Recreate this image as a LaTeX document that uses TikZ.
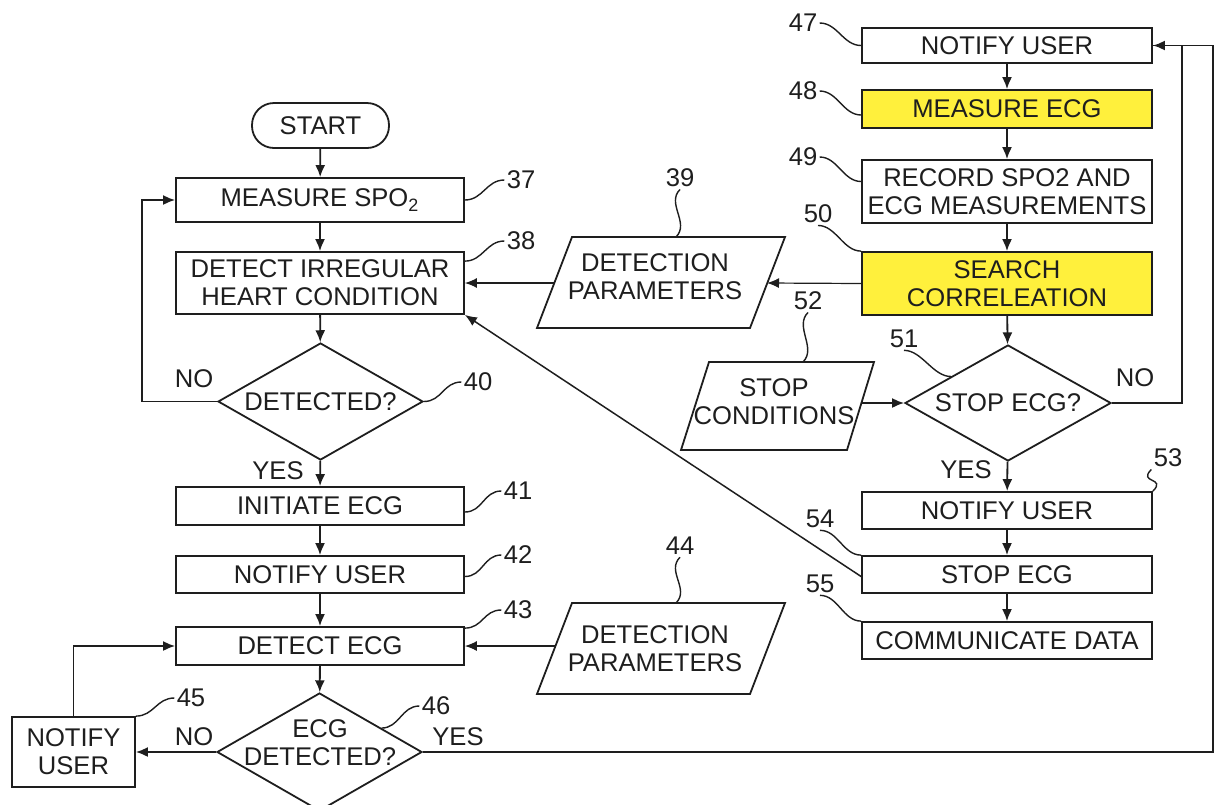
\documentclass[tikz,border=0pt]{standalone}
\usepackage{fontspec}
\setmainfont{Liberation Sans}
\usetikzlibrary{arrows.meta,shapes.geometric,calc}
\definecolor{hlyellow}{RGB}{255,240,60}
\definecolor{ink}{RGB}{30,30,30}
\begin{document}
\begin{tikzpicture}[x=0.5pt,y=-0.5pt,
  every node/.style={font=\fontsize{12.8}{14}\selectfont, text=ink},
  ln/.style={line width=0.9pt, draw=ink},
  thinln/.style={line width=0.6pt, draw=ink},
  box/.style={draw=ink, line width=0.9pt, inner sep=0pt, align=center, fill=white},
  hl/.style={box, fill=hlyellow},
  dia/.style={draw=ink, line width=0.9pt, diamond, inner sep=0pt},
  arr/.style={ln, -{Latex[length=6pt,width=5pt]}},
  tarr/.style={thinln, -{Latex[length=6pt,width=5pt]}},
  lead/.style={line width=0.7pt, draw=ink},
  num/.style={inner sep=1pt},
  hs/.style={to path={.. controls +(18,0) and +(-18,0) .. (\tikztotarget)}},
  vs/.style={to path={.. controls +(14,-14) and +(-14,14) .. (\tikztotarget)}}
]
\useasboundingbox (0,0) rectangle (1221,804);
\clip (0,0) rectangle (1221,804);

% ---------- left column ----------
\node[box, minimum width=68.5pt, minimum height=22.5pt, rounded corners=11pt] (start) at (320.5,125.5) {START};
\node[box, minimum width=144pt, minimum height=22pt] (b37) at (320,200) {MEASURE SPO\textsubscript{2}};
\node[box, minimum width=144pt, minimum height=31pt] (b38) at (320,283) {DETECT IRREGULAR\\HEART CONDITION};
\node[dia, minimum width=102.5pt, minimum height=58.5pt] (d40) at (320.5,401.5) {};
\node (t40) at (d40.center) {DETECTED?};
\node[box, minimum width=144pt, minimum height=19pt] (b41) at (320,506) {INITIATE ECG};
\node[box, minimum width=144pt, minimum height=18.5pt] (b42) at (320,574.5) {NOTIFY USER};
\node[box, minimum width=144pt, minimum height=19pt] (b43) at (320,646) {DETECT ECG};
\node[dia, minimum width=102.5pt, minimum height=59pt] (d46) at (319.5,752) {};
\node[align=center] (t46) at (320,743) {ECG\\DETECTED?};
\node[box, minimum width=61.5pt, minimum height=35pt] (b45) at (73.5,752) {NOTIFY\\USER};

% ---------- parallelograms ----------
\draw[ln] (572,237) -- (785,237) -- (750,328) -- (537,328) -- cycle;
\node[align=center] (t39) at (655,277) {DETECTION\\PARAMETERS};
\coordinate (p39r) at (767,283);
\coordinate (p39l) at (554,283);
\coordinate (p39t) at (676,237);

\draw[ln] (572,603) -- (785,603) -- (750,694) -- (537,694) -- cycle;
\node[align=center] (t44) at (655,649) {DETECTION\\PARAMETERS};
\coordinate (p44l) at (555.5,646);
\coordinate (p44t) at (676,603);

\draw[ln] (709,362) -- (874,362) -- (847,450) -- (681,450) -- cycle;
\node[align=center] (t52) at (774,402) {STOP\\CONDITIONS};
\coordinate (p52r) at (861,403);
\coordinate (p52t) at (803,362);

% ---------- right column ----------
\node[box, minimum width=145pt, minimum height=17.5pt] (b47) at (1007,45.5) {NOTIFY USER};
\node[hl, minimum width=145pt, minimum height=19pt] (b48) at (1007,109) {MEASURE ECG};
\node[box, minimum width=145pt, minimum height=31.5pt] (b49) at (1007,191.5) {RECORD SPO2 AND\\ECG MEASUREMENTS};
\node[hl, minimum width=145pt, minimum height=31.5pt] (b50) at (1007,283.5) {SEARCH\\CORRELEATION};
\node[dia, minimum width=103pt, minimum height=58pt] (d51) at (1008,403) {};
\node (t51) at (d51.center) {STOP ECG?};
\node[box, minimum width=145pt, minimum height=18.5pt] (b53) at (1007,510.5) {NOTIFY USER};
\node[box, minimum width=145pt, minimum height=18.5pt] (b54) at (1007,574.5) {STOP ECG};
\node[box, minimum width=145pt, minimum height=18.5pt] (b55) at (1007,640.5) {COMMUNICATE DATA};

% ---------- connectors left ----------
\draw[arr] (start) -- (b37);
\draw[arr] (b37) -- (b38);
\draw[arr] (b38) -- (d40);
\draw[arr] (d40) -- (b41);
\draw[arr] (b41) -- (b42);
\draw[arr] (b42) -- (b43);
\draw[arr] (b43) -- (d46);
\coordinate (c40) at (142,401.5);
\draw[arr] (d40.west) -- (c40) |- (b37.west);
\draw[arr] (d46.west) -- (b45.east);
\draw[arr] (b45.north) |- (b43.west);
\draw[tarr] (p44l) -- (b43.east);
\draw[tarr] (b50.west) -- (p39r);
\draw[tarr] (p39l) -- (b38.east);
\draw[line width=0.75pt, draw=ink, -{Latex[length=6pt,width=5pt]}] ([yshift=-1pt]b54.west) -- (b38.south east);

% ---------- connectors right ----------
\draw[arr] (b47) -- (b48);
\draw[arr] (b48) -- (b49);
\draw[arr] (b49) -- (b50);
\draw[arr] (b50) -- (d51);
\draw[arr] (d51) -- (b53);
\draw[arr] (b53) -- (b54);
\draw[arr] (b54) -- (b55);
\draw[arr] (p52r) -- (d51.west);
\coordinate (c51) at (1182,403);
\draw[thinln] (d51.east) -- (c51) |- (b47.east);
\coordinate (c46) at (1213,752);
\draw[arr] (d46.east) -- (c46) |- (b47.east);

% ---------- branch labels ----------
\node (no40) at (194,379) {NO};
\node (yes40) at (278,471) {YES};
\node (no46) at (194,737) {NO};
\node (yes46) at (458,737) {YES};
\node (no51) at (1135,378) {NO};
\node (yes51) at (966,470) {YES};

% ---------- reference numerals ----------
\node[num] (n37) at (521,180) {37};
\node[num] (n38) at (521,241) {38};
\node[num] (n40) at (478,382) {40};
\node[num] (n41) at (518,491) {41};
\node[num] (n42) at (518,555) {42};
\node[num] (n43) at (518,610) {43};
\node[num] (n44) at (680,546) {44};
\node[num] (n45) at (191,698) {45};
\node[num] (n46) at (436,706) {46};
\node[num] (n39) at (680,178) {39};
\node[num] (n47) at (803,23) {47};
\node[num] (n48) at (803,91) {48};
\node[num] (n49) at (803,157) {49};
\node[num] (n50) at (818,214) {50};
\node[num] (n51) at (904,339) {51};
\node[num] (n52) at (808,301) {52};
\node[num] (n53) at (1168,458) {53};
\node[num] (n54) at (820,519) {54};
\node[num] (n55) at (820,584) {55};

% ---------- leader lines ----------
\draw[lead] (b37.east) to[hs] (n37.west);
\draw[lead] ([yshift=-5pt]b38.north east) to[hs] (n38.west);
\draw[lead] (d40.east) to[hs] (n40.west);
\draw[lead] ([yshift=-3pt]b41.east) to[hs] (n41.west);
\draw[lead] ([yshift=-1pt]b42.east) to[hs] (n42.west);
\draw[lead] ([yshift=-1pt]b43.north east) to[hs] (n43.west);
\draw[lead] (p44t) to[vs] (n44.south);
\draw[lead] (b45.north east) to[hs] (n45.west);
\draw[lead] ($(d46.north)!0.6!(d46.east)$) to[hs] (n46.west);
\draw[lead] (p39t) to[vs] (n39.south);
\draw[lead] (n47.east) to[hs] (b47.west);
\draw[lead] (n48.east) to[hs] ([yshift=-3pt]b48.west);
\draw[lead] (n49.east) to[hs] ([yshift=5pt]b49.west);
\draw[lead] (n50.south) to[hs] (b50.north west);
\draw[lead] (n51.south) to[hs] ($(d51.west)!0.45!(d51.north)$);
\draw[lead] (p52t) to[vs] (n52.south);
\draw[lead] (b53.north east) to[vs] (n53.south west);
\draw[lead] (n54.south) to[hs] (b54.north west);
\draw[lead] (n55.south) to[hs] (b55.north west);
\end{tikzpicture}
\end{document}
